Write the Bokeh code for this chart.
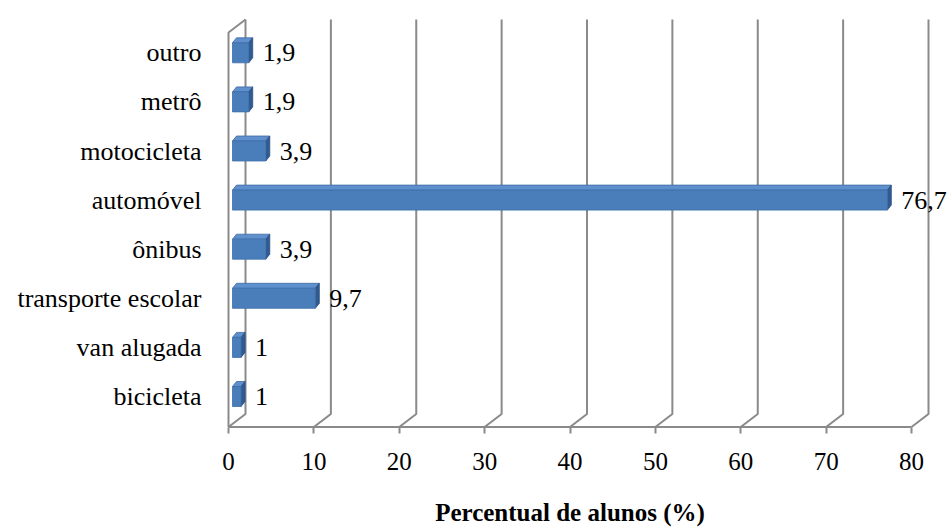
from bokeh.plotting import figure
from bokeh.models import Range1d, FixedTicker, Label, ColumnDataSource, LabelSet
from bokeh.embed import file_html
from bokeh.resources import INLINE

# ---- data ----
categories = ["bicicleta", "van alugada", "transporte escolar", "ônibus",
              "automóvel", "motocicleta", "metrô", "outro"]
percent = [1, 1, 9.7, 3.9, 76.7, 3.9, 1.9, 1.9]
x_ticks = [0, 10, 20, 30, 40, 50, 60, 70, 80]
x_title = "Percentual de alunos (%)"

# ---- geometry (pixels -> data units) ----
SX = 8.5375   # px per percent unit
SY = 49.1     # px per category step
FONT = "Liberation Serif"

W, H = 952, 529
BL, BR, BT, BB = 214, 0, 10, 0
FW = W - BL - BR
FH = H - BT - BB
x0 = -14.0 / SX
y_top = 386.0 / SY
y_bot = y_top - FH / SY

p = figure(width=W, height=H, output_backend="svg", toolbar_location=None,
           x_range=Range1d(x0, x0 + FW / SX), y_range=Range1d(y_bot, y_top),
           min_border_left=BL, min_border_right=BR, min_border_top=BT,
           min_border_bottom=BB)
p.outline_line_color = None
p.background_fill_color = "white"
p.border_fill_color = "white"
p.xgrid.visible = False
p.ygrid.visible = False

# ---- 3D walls ----
DX = 17.0 / SX
DY = 13.0 / SY
floor_y = -30.5 / SY
front_top_y = 364.0 / SY
back_top_y = front_top_y + DY

wall_xs = [[t, t + DX, t + DX] for t in x_ticks]
wall_ys = [[floor_y, floor_y + DY, back_top_y] for t in x_ticks]
wall_xs.append([0, 0, DX])
wall_ys.append([floor_y, front_top_y, back_top_y])
wall_xs.append([0, x_ticks[-1]])
wall_ys.append([floor_y, floor_y])
p.multi_line(xs=wall_xs, ys=wall_ys, line_color="#8a8a8a", line_width=2)

# ---- bars (3D) ----
BX = 4.0 / SX
BH = 20.0 / SY
BDX = 4.0 / SX
BDY = 5.0 / SY
idx = list(range(len(categories)))
src = ColumnDataSource(dict(
    left=[BX for _ in percent],
    right=[v + BX for v in percent],
    bottom=[i - BH / 2 for i in idx],
    top=[i + BH / 2 for i in idx],
))
top_xs, top_ys, side_xs, side_ys = [], [], [], []
for i, v in zip(idx, percent):
    xl, xr = BX, v + BX
    yb, yt = i - BH / 2, i + BH / 2
    top_xs.append([xl, xr, xr + BDX, xl + BDX])
    top_ys.append([yt, yt, yt + BDY, yt + BDY])
    side_xs.append([xr, xr + BDX, xr + BDX, xr])
    side_ys.append([yb, yb + BDY, yt + BDY, yt])
p.patches(xs=top_xs, ys=top_ys, fill_color="#5f8fcc", line_color="#3d6aa3", line_width=0.8)
p.patches(xs=side_xs, ys=side_ys, fill_color="#2f5b91", line_color="#2a5186", line_width=0.8)
p.quad(left="left", right="right", bottom="bottom", top="top", source=src,
       fill_color="#4a7ebb", line_color="#3d6ea8", line_width=0.8)

# ---- value labels ----
lab_src = ColumnDataSource(dict(
    x=percent, y=idx,
    t=[(("%g" % v).replace(".", ",")) for v in percent],
))
p.add_layout(LabelSet(x="x", y="y", text="t", source=lab_src, x_offset=18,
                      text_baseline="middle", text_align="left",
                      text_font=FONT, text_font_size="26px", text_color="black"))

# ---- axes ----
p.xaxis.fixed_location = floor_y
p.xaxis.ticker = FixedTicker(ticks=x_ticks)
p.xaxis.axis_line_color = None
p.xaxis.major_tick_in = 0
p.xaxis.major_tick_out = 6
p.xaxis.major_tick_line_color = "#8a8a8a"
p.xaxis.major_tick_line_width = 2
p.xaxis.minor_tick_line_color = None
p.xaxis.major_label_text_font = FONT
p.xaxis.major_label_text_font_size = "25px"
p.xaxis.major_label_text_color = "black"
p.xaxis.major_label_standoff = 20

p.yaxis.ticker = FixedTicker(ticks=idx)
p.yaxis.major_label_overrides = {i: c for i, c in zip(idx, categories)}
p.yaxis.axis_line_color = None
p.yaxis.major_tick_line_color = None
p.yaxis.minor_tick_line_color = None
p.yaxis.major_tick_out = 0
p.yaxis.major_tick_in = 0
p.yaxis.major_label_standoff = 13
p.yaxis.major_label_text_font = FONT
p.yaxis.major_label_text_font_size = "26px"
p.yaxis.major_label_text_color = "black"

# axis title, centred under the 0..80 scale
title_y = floor_y - 85.0 / SY
p.add_layout(Label(x=(x_ticks[0] + x_ticks[-1]) / 2, y=title_y, text=x_title,
                   text_align="center", text_baseline="middle",
                   text_font=FONT, text_font_size="25px", text_font_style="bold",
                   text_color="black"))

open("out.html", "w").write(file_html(p, INLINE))
